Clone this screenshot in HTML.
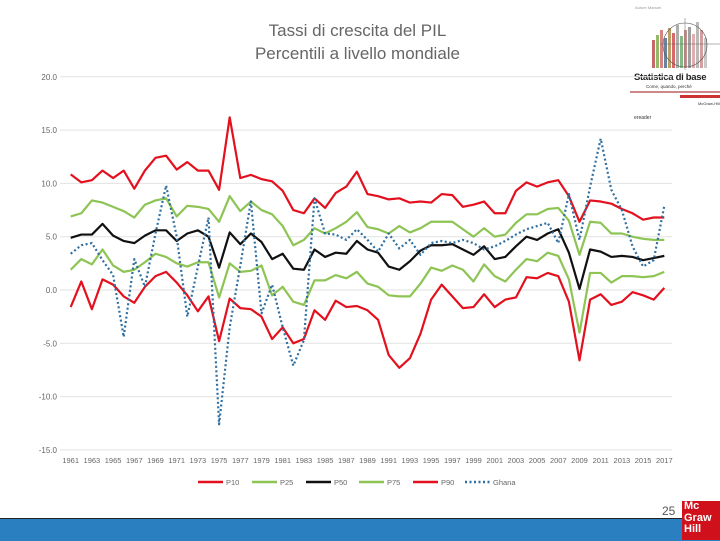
<!DOCTYPE html>
<html><head><meta charset="utf-8"><style>
body{margin:0;width:720px;height:540px;background:#fff;position:relative;overflow:hidden;font-family:"Liberation Sans",sans-serif}
.title{position:absolute;left:200px;width:315px;text-align:center;color:#666;font-size:17px}
</style></head><body>
<div class="title" style="top:21px">Tassi di crescita del PIL</div>
<div class="title" style="top:44px">Percentili a livello mondiale</div>
<div style="position:absolute;left:630px;top:0;width:90px;height:120px">
<div style="position:absolute;left:5px;top:5px;font-size:4px;color:#999">Autore Manuel</div>
<svg width="90" height="70" style="position:absolute;left:0;top:0">
<g opacity="0.8"><rect x="22" y="40" width="3" height="28" fill="#b44"/><rect x="26" y="35" width="3" height="33" fill="#7a4"/><rect x="30" y="30" width="3" height="38" fill="#c66"/><rect x="34" y="38" width="3" height="30" fill="#468"/><rect x="38" y="28" width="3" height="40" fill="#a84"/><rect x="42" y="33" width="3" height="35" fill="#c44"/><rect x="46" y="25" width="3" height="43" fill="#999"/><rect x="50" y="36" width="3" height="32" fill="#6a6"/><rect x="54" y="30" width="3" height="38" fill="#b77"/><rect x="58" y="27" width="3" height="41" fill="#888"/><rect x="62" y="34" width="3" height="34" fill="#d99"/><rect x="66" y="22" width="3" height="46" fill="#aaa"/><rect x="70" y="30" width="3" height="38" fill="#c88"/><rect x="74" y="38" width="3" height="30" fill="#bbb"/></g>
<circle cx="55" cy="45" r="22" fill="none" stroke="#555" stroke-width="0.6"/>
<line x1="30" y1="44" x2="90" y2="44" stroke="#666" stroke-width="0.5"/><line x1="55" y1="18" x2="55" y2="70" stroke="#666" stroke-width="0.5"/></svg>
<div style="position:absolute;left:4px;top:72px;font-size:9.5px;font-weight:bold;color:#222;letter-spacing:-0.3px">Statistica di base</div>
<div style="position:absolute;left:16px;top:84px;font-size:4.5px;color:#333">Come, quando, perché</div>
<div style="position:absolute;left:0;top:91px;width:90px;height:2px;background:#c88"></div>
<div style="position:absolute;left:50px;top:95px;width:40px;height:3px;background:#c33"></div>
<div style="position:absolute;left:68px;top:101px;font-size:4px;color:#333">McGraw-Hill</div>
<div style="position:absolute;left:4px;top:115px;font-size:5px;color:#333">ereader</div>
</div>
<svg id="chart" width="720" height="500" style="position:absolute;left:0;top:0"></svg>
<div style="position:absolute;left:662px;top:504px;font-size:12px;color:#555">25</div>
<div style="position:absolute;left:0;top:518px;width:720px;height:22px;background:#2a7fc0;border-top:1px solid #222"></div>
<div style="position:absolute;left:682px;top:501px;width:38px;height:39px;background:#d0101a;color:#fff;font-weight:bold;font-size:11px;line-height:11.5px;padding-left:2px;box-sizing:border-box">Mc<br>Graw<br>Hill</div>
<script>
const years=[];for(let y=1961;y<=2017;y++)years.push(y);
const tickLabels=[-15,-10,-5,0,5,10,15,20];
const p10=[-1.6,0.8,-1.8,1.0,0.5,-0.6,-1.2,0.3,1.3,1.7,0.7,-0.5,-2.0,-0.6,-4.8,-0.8,-1.7,-1.8,-2.5,-4.6,-3.5,-5.0,-4.6,-1.9,-2.8,-1.0,-1.6,-1.5,-1.9,-2.8,-6.1,-7.3,-6.4,-4.1,-0.9,0.5,-0.6,-1.7,-1.6,-0.4,-1.6,-0.9,-0.7,1.2,1.1,1.6,1.3,-1.1,-6.6,-0.9,-0.4,-1.4,-1.1,-0.2,-0.5,-0.9,0.2];
const p25=[1.9,2.9,2.4,3.8,2.3,1.7,1.9,2.6,3.4,3.1,2.5,2.2,2.6,2.6,-0.7,2.5,1.7,1.8,2.3,-0.5,0.3,-1.1,-1.4,0.9,0.9,1.4,1.1,1.7,0.6,0.3,-0.5,-0.6,-0.6,0.6,2.1,1.8,2.3,1.9,0.8,2.4,1.3,0.8,1.9,2.9,2.7,3.5,3.2,1.0,-4.0,1.6,1.6,0.7,1.3,1.3,1.2,1.3,1.7];
const p50=[4.9,5.2,5.2,6.2,5.1,4.6,4.4,5.1,5.6,5.6,4.6,5.3,5.6,5.0,2.1,5.4,4.3,5.3,4.5,2.9,3.4,2.0,1.9,3.8,3.1,3.5,3.4,4.6,3.8,3.5,2.2,1.9,2.7,3.7,4.2,4.2,4.3,3.8,3.3,4.1,2.9,3.1,4.1,5.0,4.7,5.3,5.7,3.5,0.1,3.8,3.6,3.1,3.2,3.1,2.8,3.0,3.2];
const p75=[6.9,7.2,8.4,8.2,7.8,7.4,6.8,8.0,8.4,8.6,6.9,7.9,7.8,7.6,6.4,8.8,7.4,8.3,7.5,7.1,6.0,4.2,4.7,5.8,5.3,5.8,6.4,7.3,5.9,5.7,5.3,6.0,5.4,5.8,6.4,6.4,6.4,5.7,5.0,5.8,5.0,5.2,6.3,7.1,7.1,7.6,7.7,6.5,3.3,6.4,6.3,5.3,5.3,5.0,4.8,4.7,4.7];
const p90=[10.85,10.1,10.3,11.2,10.5,11.2,9.5,11.2,12.4,12.6,11.3,12.0,11.2,11.2,9.4,16.2,10.5,10.8,10.4,10.2,9.3,7.5,7.2,8.6,7.7,9.1,9.7,11.1,9.0,8.8,8.5,8.6,8.2,8.3,8.2,9.0,8.9,7.8,8.0,8.3,7.2,7.2,9.3,10.1,9.7,10.1,10.3,8.8,6.4,8.4,8.3,8.1,7.6,7.2,6.6,6.8,6.8];
const ghana=[3.4,4.2,4.4,2.8,1.4,-4.4,2.9,0.3,5.3,9.8,5.0,-2.5,2.2,6.8,-12.6,-3.5,2.3,8.3,-2.2,0.5,-3.5,-7.1,-4.7,8.6,5.3,5.2,4.7,5.7,4.7,3.6,5.3,3.9,4.7,3.3,4.4,4.6,4.4,4.7,4.4,3.8,4.1,4.6,5.2,5.7,6.0,6.3,4.4,9.0,4.7,9.7,14.2,9.4,7.5,4.1,2.2,2.8,7.9];
const NS='http://www.w3.org/2000/svg',svg=document.getElementById('chart');
const X0=70.7,DX=10.6,Y0=290,KY=10.66;
const xs=i=>X0+i*DX, ys=v=>Y0-v*KY;
function el(t,a){const e=document.createElementNS(NS,t);for(const k in a)e.setAttribute(k,a[k]);svg.appendChild(e);return e;}
tickLabels.forEach(v=>{
 const g=el('line',{x1:60,x2:672,y1:ys(v),y2:ys(v),stroke:'#e2e2e2','stroke-width':1});
 
 
 const t=el('text',{x:57,y:ys(v)+3,'text-anchor':'end','font-size':8,fill:'#666'});t.textContent=v.toFixed(1);
 
 
});
years.forEach((y,i)=>{if(i%2)return;
 const t=el('text',{x:xs(i),y:463,'text-anchor':'middle','font-size':7.5,fill:'#666'});t.textContent=y;
 
 
});
const series=[[p90,'#e3101e','','p90-line'],[p75,'#8dc454','','p75-line'],[p25,'#8dc454','','p25-line'],[p50,'#111','','p50-line'],[p10,'#e3101e','','p10-line'],[ghana,'#2f6fa0','2,2.5','ghana-line']];
series.forEach(([d,c,da,n])=>{
 const p=el('polyline',{points:d.map((v,i)=>xs(i)+','+ys(v)).join(' '),fill:'none',stroke:c,'stroke-width':2.2,'stroke-dasharray':da,'stroke-linejoin':'round'});
 
 
});
const legend=[['P10','#e3101e','',198],['P25','#8dc454','',252],['P50','#111','',306],['P75','#8dc454','',359],['P90','#e3101e','',413],['Ghana','#2f6fa0','2,2.5',465]];
legend.forEach(([n,c,da,x])=>{
 const l=el('line',{x1:x,x2:x+25,y1:482,y2:482,stroke:c,'stroke-width':2.5,'stroke-dasharray':da});
 
 
 const t=el('text',{x:x+28,y:485,'font-size':7.5,fill:'#666'});t.textContent=n;
 
 
});
</script>
</body></html>
